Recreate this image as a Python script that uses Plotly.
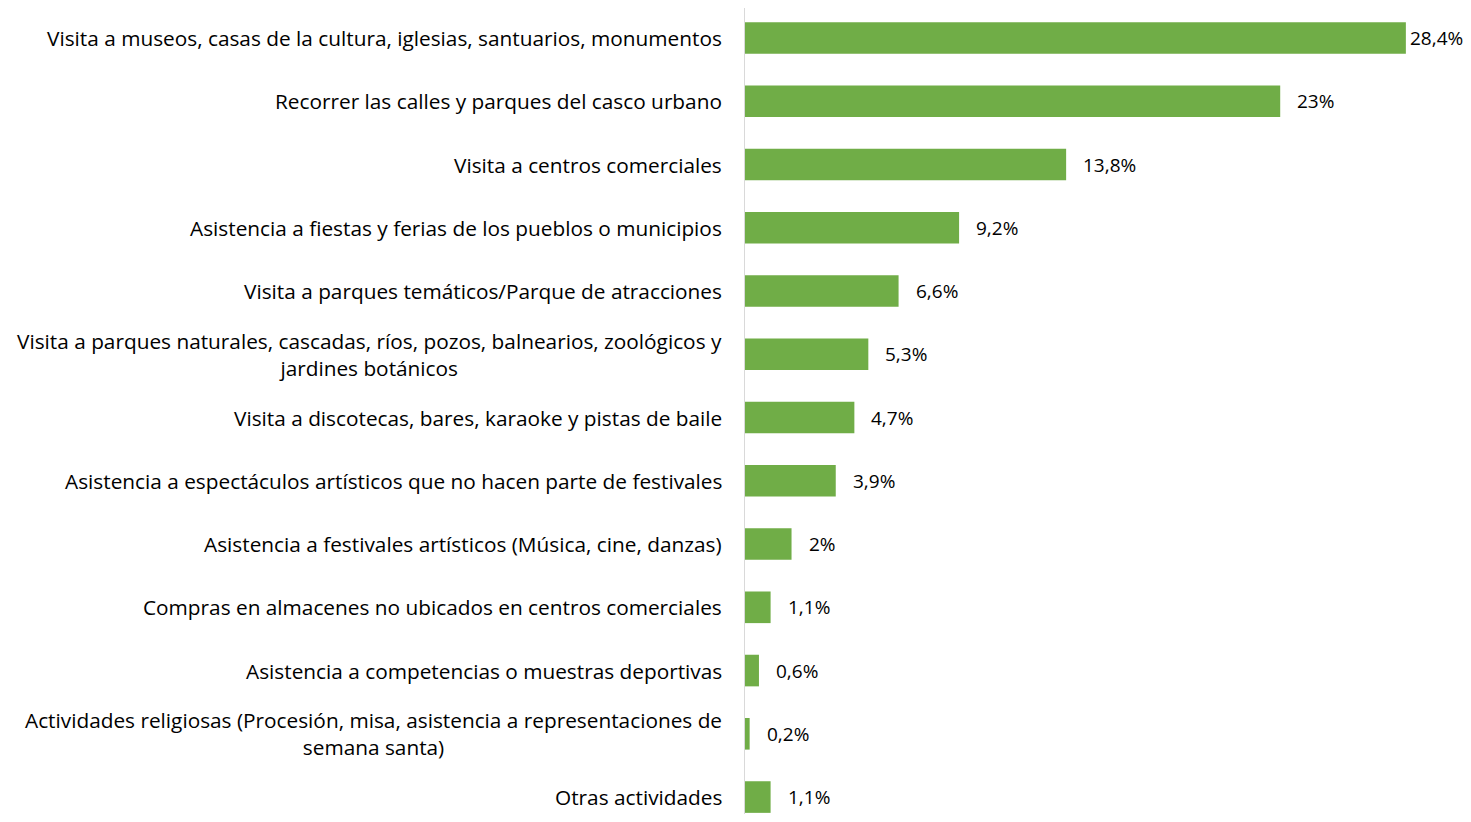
import plotly.graph_objects as go

categories = [
    "Visita a museos, casas de la cultura, iglesias, santuarios, monumentos",
    "Recorrer las calles y parques del casco urbano",
    "Visita a centros comerciales",
    "Asistencia a fiestas y ferias de los pueblos o municipios",
    "Visita a parques temáticos/Parque de atracciones",
    "Visita a parques naturales, cascadas, ríos, pozos, balnearios, zoológicos y<br>jardines botánicos",
    "Visita a discotecas, bares, karaoke y pistas de baile",
    "Asistencia a espectáculos artísticos que no hacen parte de festivales",
    "Asistencia a festivales artísticos (Música, cine, danzas)",
    "Compras en almacenes no ubicados en centros comerciales",
    "Asistencia a competencias o muestras deportivas",
    "Actividades religiosas (Procesión, misa, asistencia a representaciones de<br>semana santa)",
    "Otras actividades",
]
values = [28.4, 23, 13.8, 9.2, 6.6, 5.3, 4.7, 3.9, 2, 1.1, 0.6, 0.2, 1.1]
value_labels = ["28,4%", "23%", "13,8%", "9,2%", "6,6%", "5,3%", "4,7%", "3,9%", "2%", "1,1%", "0,6%", "0,2%", "1,1%"]

FONT = "Open Sans"
ids = list(range(len(categories)))

fig = go.Figure()
fig.add_trace(go.Bar(
    x=values, y=ids, orientation="h",
    marker=dict(color="#70AD47", line=dict(width=0)),
    width=0.5, hoverinfo="skip",
))

vmax = max(values)
for i, (c, v, t) in enumerate(zip(categories, values, value_labels)):
    fig.add_annotation(
        x=0, xref="paper", y=i, yref="y", text=c, showarrow=False,
        xanchor="right", yanchor="middle", align="center", xshift=-21,
        font=dict(family=FONT, size=20.8, color="#000000"),
    )
    fig.add_annotation(
        x=v, xref="x", y=i, yref="y", text=t, showarrow=False,
        xanchor="left", yanchor="middle", xshift=(2 if v >= vmax else 15),
        font=dict(family=FONT, size=19, color="#000000"),
    )

# page body has an 8px margin, so the figure is drawn 8px in from the window corner
fig.update_layout(
    width=1455, height=806,
    margin=dict(l=737, r=0, t=0, b=0),
    plot_bgcolor="white", paper_bgcolor="white",
    showlegend=False,
    xaxis=dict(range=[0, 30.855], showgrid=False, zeroline=False, showticklabels=False, showline=False, ticks=""),
    yaxis=dict(range=[12.268, -0.475], showgrid=False, zeroline=False, showticklabels=False,
               showline=True, linecolor="#D9D9D9", linewidth=1, ticks=""),
)

fig.write_html("out.html")
